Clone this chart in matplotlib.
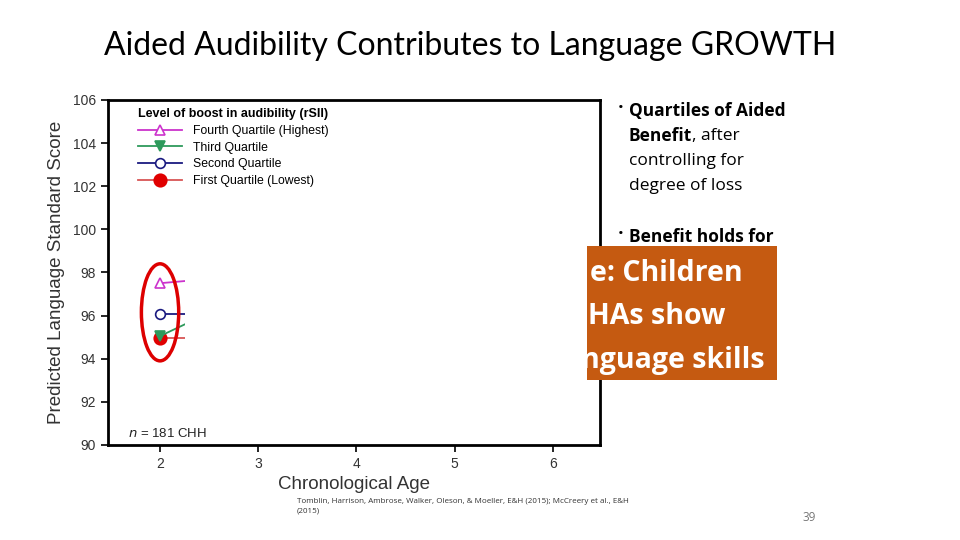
import matplotlib
matplotlib.use("Agg")
import matplotlib.pyplot as plt
from matplotlib.patches import Ellipse, Rectangle

# quartile series (only the first stretch of the lines is shown on the slide)
ages = [2, 3]
fourth = [97.5, 97.9]
third = [95.05, 97.2]
second = [96.05, 96.05]
first = [94.95, 94.95]
x_ticks = [2, 3, 4, 5, 6]
y_ticks = [90, 92, 94, 96, 98, 100, 102, 104, 106]
shown_to = 2.25  # lines are cut off here (slide build)

arial = "Liberation Sans"
fig = plt.figure(figsize=(9.6, 5.4), dpi=100)
fig.patch.set_facecolor("white")

fig.text(0.49, 0.915, "Aided Audibility Contributes to Language GROWTH",
         ha="center", va="center", fontsize=23, family="Lato", color="black")

ax = fig.add_axes([0.1125, 0.176, 0.5125, 0.639])
clip = Rectangle((1.0, 80), shown_to - 1.0, 40, transform=ax.transData)

series = [
    (fourth, "Fourth Quartile (Highest)", "#cc33cc", "#cc33cc", "^", "white", 3),
    (third, "Third Quartile", "#2e9a5c", "#2e9a5c", "v", "#2e9a5c", 4),
    (second, "Second Quartile", "#1a1a80", "#1a1a80", "o", "white", 3),
    (first, "First Quartile (Lowest)", "#d85555", "#e00000", "o", "#e00000", 2),
]
for vals, lab, lc, mc, mk, fc, z in series:
    ln, = ax.plot(ages, vals, color=lc, lw=1.3, label=lab, marker=mk,
                  markevery=[0], ms=9 if mk == "o" and fc != "white" else 7,
                  markerfacecolor=fc, markeredgecolor=mc, markeredgewidth=1.2,
                  zorder=z)
    ln.set_clip_path(clip)

ell = Ellipse((2.0, 96.15), 0.38, 4.5, fill=False, edgecolor="#dd0000", lw=2.5,
              zorder=5)
ax.add_patch(ell)

ax.set_xlim(1.47, 6.48)
ax.set_ylim(90, 106)
ax.set_xticks(x_ticks)
ax.set_yticks(y_ticks)
ax.tick_params(direction="out", length=5, width=1.2, labelsize=10,
               labelcolor="#333333")
for t in ax.get_xticklabels() + ax.get_yticklabels():
    t.set_family(arial)
for s in ax.spines.values():
    s.set_linewidth(2)
ax.set_xlabel("Chronological Age", fontsize=13.5, color="#333333", labelpad=4,
              family=arial)
ax.set_ylabel("Predicted Language Standard Score", fontsize=13.5, color="#333333",
              labelpad=6, family=arial)
ax.text(0.04, 0.015, r"$\it{n}$ = 181 CHH", transform=ax.transAxes, fontsize=9.5,
        color="#222222", va="bottom", family=arial)

leg = ax.legend(loc="upper left", bbox_to_anchor=(0.043, 1.0), frameon=False,
                prop={"family": arial, "size": 8.8},
                title="Level of boost in audibility (rSII)",
                title_fontproperties={"family": arial, "weight": "bold", "size": 9},
                handlelength=3.6, labelspacing=0.38, borderaxespad=0.3,
                handletextpad=0.9)
leg._legend_box.align = "left"

# right-hand bullets
fs = 12.5
fig.text(0.644, 0.800, "\u2022", fontsize=11, family="Open Sans", va="center")
fig.text(0.655, 0.795, "Quartiles of Aided", fontsize=fs, family="Open Sans",
         weight="bold", va="center")
b = fig.text(0.655, 0.748, "Benefit", fontsize=fs, family="Open Sans",
             weight="bold", va="center")
fig.canvas.draw()
bx = b.get_window_extent().x1 / fig.bbox.width
fig.text(bx, 0.748, ", after", fontsize=fs, family="Open Sans", va="center")
fig.text(0.655, 0.702, "controlling for", fontsize=fs, family="Open Sans",
         va="center")
fig.text(0.655, 0.655, "degree of loss", fontsize=fs, family="Open Sans",
         va="center")
fig.text(0.644, 0.566, "\u2022", fontsize=11, family="Open Sans", va="center")
fig.text(0.655, 0.561, "Benefit holds for", fontsize=fs, family="Open Sans",
         weight="bold", va="center")

# orange callout box, partly hidden behind the chart picture
box = Rectangle((587 / 960, 1 - 380 / 540), 190 / 960, 134 / 540,
                transform=fig.transFigure, facecolor="#c55a11", edgecolor="none")
fig.patches.append(box)
for yy, xx, ha, txt in [(0.494, 743, "right", "e: Children"),
                        (0.413, 588, "left", "HAs show"),
                        (0.332, 765, "right", "nguage skills")]:
    t = fig.text(xx / 960, yy, txt, fontsize=20.5, family="Open Sans",
                 weight="bold", color="white", va="center", ha=ha)
    t.set_clip_path(box)

fig.text(0.309, 0.062, "Tomblin, Harrison, Ambrose, Walker, Oleson, & Moeller, E&H (2015); McCreery et al., E&H\n(2015)",
         fontsize=5.8, family="Open Sans", color="#333333", va="center",
         linespacing=1.5)
fig.text(0.836, 0.042, "39", fontsize=8.5, family="Open Sans", color="#777777",
         va="center")

fig.savefig("out.png", dpi=100)
